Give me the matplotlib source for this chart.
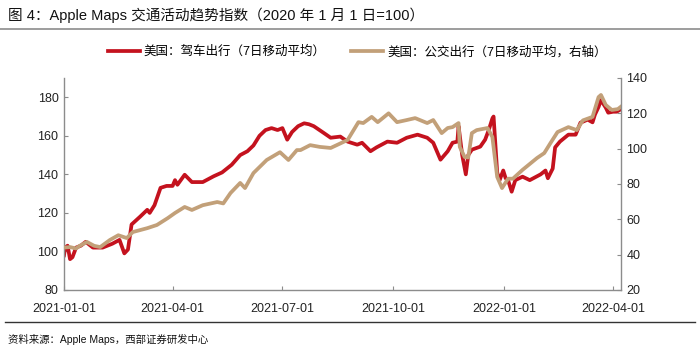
import pandas as pd
import matplotlib.pyplot as plt
import matplotlib.lines as mlines

plt.rcParams['font.family'] = ['Liberation Sans', 'Noto Sans CJK SC', 'DejaVu Sans']
plt.rcParams['axes.unicode_minus'] = False

start = pd.Timestamp('2021-01-01')

# 美国：驾车出行（左轴），天数相对 2021-01-01
drive_days = [0, 1, 3, 5, 7, 10, 14, 18, 24, 32, 40, 46, 50, 53, 56, 63, 69, 71, 75, 80,
              85, 90, 92, 94, 100, 106, 115, 124, 131, 139, 146, 152, 157, 162, 167, 172,
              177, 181, 185, 189, 194, 199, 203, 207, 215, 221, 229, 235, 243, 247, 254,
              259, 268, 276, 284, 293, 301, 306, 312, 318, 322, 326, 327, 330, 333, 335,
              338, 345, 349, 352, 355, 356, 359, 361, 364, 366, 368, 371, 374, 380, 386,
              395, 399, 401, 405, 407, 411, 418, 424, 428, 434, 438, 440, 443, 445, 449,
              451, 455, 458, 462]
drive = [98, 102, 103, 96, 97, 102, 103, 105, 102, 102, 104, 106, 99, 101, 114, 118, 121.6,
         120, 124, 133, 134, 134, 137, 134.6, 139.8, 136, 136, 139, 141, 145, 150, 152, 155,
         160, 163, 164, 163, 164, 158, 162, 165, 166.5, 166, 165, 161.6, 159, 159.6, 157,
         155.4, 156.4, 152, 154, 157, 156.4, 159, 160.6, 159, 156.4, 147.6, 152, 156.4, 157,
         165, 150, 140, 150, 152.8, 154.4, 158, 163, 169, 170, 141, 137, 142, 138, 137, 131,
         137, 138.8, 137, 140, 142, 138, 143, 154, 157, 160.6, 160.6, 166.8, 168.4, 167, 171,
         175, 178.5, 174.6, 172, 172.5, 172.5, 174]

# 美国：公交出行（右轴）
transit_days = [0, 5, 10, 13, 19, 25, 30, 38, 45, 52, 57, 69, 77, 86, 92, 100, 106, 115,
                127, 132, 138, 146, 150, 157, 168, 179, 186, 193, 196, 204, 212, 221, 226,
                235, 240, 244, 248, 255, 260, 269, 276, 284, 291, 301, 306, 313, 318, 322,
                327, 328, 332, 335, 338, 342, 351, 355, 359, 363, 368, 372, 380, 392, 398,
                403, 409, 418, 425, 430, 438, 443, 445, 449, 454, 459, 462]
transit = [44, 44.3, 43.5, 45, 47.2, 45, 44.3, 48.3, 51, 49.4, 52.8, 55, 56.8, 60.7, 63.6,
           67, 65.3, 68, 69.8, 69, 74.9, 80.6, 77.7, 86.2, 93.6, 98, 93.6, 99.2, 99.2, 102,
           101, 100.4, 102, 104.9, 110.5, 115, 114.5, 118, 115, 120, 115, 116.2, 117.3, 114.5,
           116.2, 108.8, 111.7, 112.2, 114.5, 101, 95.3, 95, 108.8, 110.5, 111.7, 106.6, 84,
           77.7, 83, 83, 88, 94.7, 97.5, 103, 109.4, 112.2, 110.5, 116, 118, 129.2, 130.4,
           124.7, 121.9, 122.4, 124]

xtick_labels = ['2021-01-01', '2021-04-01', '2021-07-01', '2021-10-01', '2022-01-01', '2022-04-01']

drive_x = start + pd.to_timedelta(drive_days, unit='D')
transit_x = start + pd.to_timedelta(transit_days, unit='D')

red = '#C4121E'
tan = '#C2A079'
grey = '#8C8C8C'

fig = plt.figure(figsize=(7, 3.54), dpi=100)
ax = fig.add_axes([64/700, 1 - 290/354, (621 - 64)/700, (290 - 78)/354])
ax2 = ax.twinx()

l1, = ax.plot(drive_x, drive, color=red, lw=2.7, solid_joinstyle='round')
l2, = ax2.plot(transit_x, transit, color=tan, lw=2.7, solid_joinstyle='round')

ax.set_xlim(start, start + pd.Timedelta(days=461.6))
ax.set_ylim(80, 190)
ax.set_yticks([80, 100, 120, 140, 160, 180])
ax2.set_ylim(20, 140)
ax2.set_yticks([20, 40, 60, 80, 100, 120, 140])

ax.set_xticks(pd.to_datetime(xtick_labels))
ax.set_xticklabels(xtick_labels)

for a in (ax, ax2):
    a.spines['top'].set_visible(False)
    for s in ('left', 'right', 'bottom'):
        a.spines[s].set_color(grey)
        a.spines[s].set_linewidth(1.0)
    a.tick_params(direction='in', length=3, width=0.8, color=grey, labelsize=9,
                  labelcolor='#222222', pad=4)
ax.tick_params(axis='x', pad=9)
ax.spines['right'].set_visible(False)
ax2.spines['left'].set_visible(False)
ax2.spines['bottom'].set_visible(False)

fig.legend([l1, l2], ['美国：驾车出行（7日移动平均）', '美国：公交出行（7日移动平均，右轴）'],
           loc='center', bbox_to_anchor=(357/700, 1 - 52/354), ncol=2, frameon=False,
           fontsize=9, handlelength=2.6, handletextpad=0.3, columnspacing=2.0)

fig.text(8/700, 1 - 15/354, '图 4：Apple Maps 交通活动趋势指数（2020 年 1 月 1 日=100）',
         fontsize=10.5, va='center', ha='left', color='#111111')
fig.add_artist(mlines.Line2D([0.0, 1.0], [1 - 29/354] * 2, color=grey, lw=1.2))
fig.add_artist(mlines.Line2D([0.007, 0.993], [1 - 322/354] * 2, color='#333333', lw=1.0))
fig.text(8/700, 1 - 339/354, '资料来源：Apple Maps，西部证券研发中心',
         fontsize=7.5, va='center', ha='left', color='#111111')

fig.savefig('out.png', dpi=100)
